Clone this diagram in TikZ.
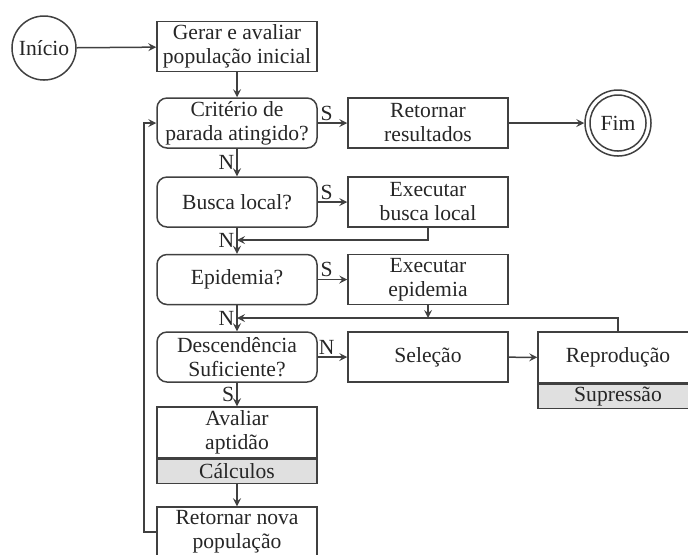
\documentclass[tikz,border=0pt]{standalone}
\usepackage{fontspec}
\setmainfont{Liberation Serif}
\usetikzlibrary{positioning}
\begin{document}
\begin{tikzpicture}[x=0.5pt,y=-0.5pt,>=stealth,line width=0.75pt,
  every node/.style={font=\fontsize{10.8}{12}\selectfont,text=black!85},
  proc/.style={draw=black!75,rectangle,minimum width=80pt,minimum height=25pt,align=center,inner sep=1pt},
  cond/.style={proc,rounded corners=5pt},
  sub/.style={proc,fill=black!12,minimum height=12pt},
  term/.style={draw=black!75,circle,minimum size=32pt,inner sep=0pt},
  flow/.style={->,draw=black!75},
  lab/.style={inner sep=1pt}]
 \useasboundingbox (0,0) rectangle (688,554);
 \clip (0,0) rectangle (688,554);

% Start and first population
 \node[term] (inicio) at (44,48) {Início};
 \node[proc] (gerar) at (237,46.5) {Gerar e avaliar\\população inicial};

% Main column
 \node[cond] (criterio) at (237,123) {Critério de\\parada atingido?};
 \node[cond] (busca) at (237,202) {Busca local?};
 \node[cond] (epidemia) at (237,279.5) {Epidemia?};
 \node[cond] (desc) at (237,357) {Descendência\\Suficiente?};
 \node[proc,minimum height=25.5pt] (avaliar) at (237,432.5) {Avaliar\\aptidão};
 \node[sub,below=0pt of avaliar] (calculos) {Cálculos};
 \node[proc] (retnova) at (237,532) {Retornar nova\\população};

% Right column
 \node[proc] (retres) at (428,123) {Retornar\\resultados};
 \node[term,minimum size=33pt] (fim) at (618,123) {Fim};
 \draw[black!75] (fim.center) circle[radius=14pt];
 \node[proc] (execbusca) at (428,202) {Executar\\busca local};
 \node[proc] (execepi) at (428,279.5) {Executar\\epidemia};
 \node[proc] (selecao) at (428,357) {Seleção};
 \node[proc,minimum height=25.5pt] (reprod) at (618,357.5) {Reprodução};
 \node[sub,below=0pt of reprod] (supressao) {Supressão};

% Junctions
 \coordinate (j1) at (237,240);
 \coordinate (j2) at (237,318);
 \coordinate (loop) at (144,532);

% Connectors
 \draw[flow] (inicio) -- (gerar);
 \draw[flow] (gerar) -- (criterio);
 \draw[flow] (criterio.east) -- node[lab,above,pos=0.3] {S} (retres.west);
 \draw[flow] (retres) -- (fim);
 \draw[flow] (criterio) -- node[lab,left] {N} (busca);
 \draw[flow] (busca.east) -- node[lab,above,pos=0.3] {S} (execbusca.west);
 \draw[flow] (execbusca.south) |- (j1);
 \draw[flow] (busca) -- node[lab,left,pos=0.5] {N} (epidemia);
 \draw[flow] (epidemia.east) -- node[lab,above,pos=0.3] {S} (execepi.west);
 \draw[flow] (execepi.south) -- (execepi.south |- j2);
 \draw[flow] (reprod.north) |- (j2);
 \draw[flow] (epidemia) -- node[lab,left] {N} (desc);
 \draw[flow] (desc.east) -- node[lab,above,pos=0.3] {N} (selecao.west);
 \draw[flow] (selecao) -- (reprod);
 \draw[flow] (desc) -- node[lab,left] {S} (avaliar);
 \draw[flow] (calculos) -- (retnova);
 \draw[flow] (retnova.west) -- (loop) |- (criterio.west);
\end{tikzpicture}
\end{document}
